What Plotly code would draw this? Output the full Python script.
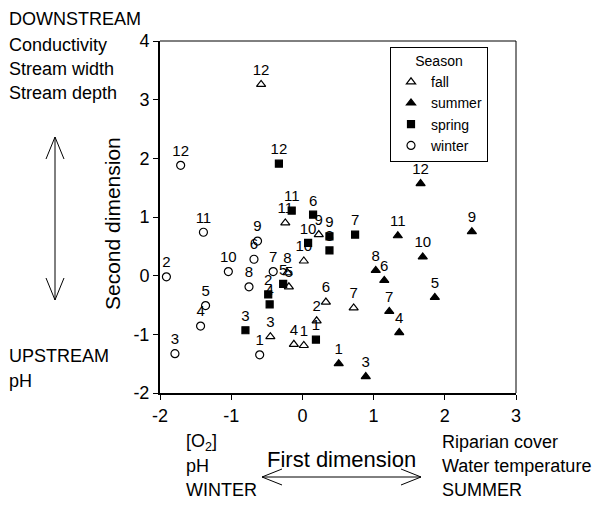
import plotly.graph_objects as go

# ---- data ----
fall_sites = ["1", "2", "3", "4", "5", "6", "7", "8", "9", "10", "11", "12"]
fall_x = [0.02, 0.20, -0.45, -0.12, -0.19, 0.33, 0.72, -0.21, 0.23, 0.02, -0.24, -0.58]
fall_y = [-1.19, -0.77, -1.04, -1.17, -0.19, -0.45, -0.55, 0.05, 0.70, 0.25, 0.90, 3.26]

summer_sites = ["1", "3", "4", "5", "6", "7", "8", "9", "10", "11", "12"]
summer_x = [0.51, 0.89, 1.36, 1.86, 1.15, 1.22, 1.03, 2.38, 1.69, 1.34, 1.66]
summer_y = [-1.50, -1.72, -0.97, -0.37, -0.08, -0.61, 0.09, 0.75, 0.32, 0.68, 1.57]

spring_sites = ["1", "2", "3", "4", "5", "6", "7", "8", "9", "10", "11", "12"]
spring_x = [0.19, -0.48, -0.80, -0.46, -0.27, 0.15, 0.74, 0.38, 0.38, 0.08, -0.15, -0.33]
spring_y = [-1.09, -0.32, -0.93, -0.49, -0.14, 1.04, 0.70, 0.43, 0.67, 0.56, 1.11, 1.91]

winter_sites = ["1", "2", "3", "4", "5", "6", "7", "8", "9", "10", "11", "12"]
winter_x = [-0.60, -1.91, -1.79, -1.43, -1.36, -0.68, -0.41, -0.75, -0.63, -1.04, -1.39, -1.71]
winter_y = [-1.35, -0.02, -1.33, -0.86, -0.51, 0.28, 0.07, -0.19, 0.59, 0.07, 0.74, 1.88]

x_ticks = [-2, -1, 0, 1, 2, 3]
x_tick_text = ["-2", "-1", "0", "1", "2", "3"]
y_ticks = [-2, -1, 0, 1, 2, 3, 4]
y_tick_text = ["-2", "-1", "0", "1", "2", "3", "4"]

FONT = "Liberation Sans, Arial, Helvetica, sans-serif"
W, H = 613, 511
L, R, T, B = 160, 516, 41, 393  # plot area in pixels


def px(xp):
    return (xp - L) / (R - L)


def py(yp):
    return (B - yp) / (B - T)


fig = go.Figure()

series = [
    ("fall", fall_x, fall_y, fall_sites, "triangle-up-open", 8),
    ("summer", summer_x, summer_y, summer_sites, "triangle-up", 8),
    ("spring", spring_x, spring_y, spring_sites, "square", 7),
    ("winter", winter_x, winter_y, winter_sites, "circle-open", 8),
]
for name, xs, ys, labels, sym, size in series:
    fig.add_trace(go.Scatter(
        x=xs, y=ys, text=labels, name=name,
        mode="markers+text", textposition="top center",
        textfont=dict(family=FONT, size=15, color="black"),
        marker=dict(symbol=sym, size=size, color="black",
                    line=dict(color="black", width=1.2)),
        cliponaxis=False,
    ))

axis_common = dict(
    showgrid=False, zeroline=False, showline=True, linecolor="black",
    linewidth=2, ticks="outside", ticklen=5, tickcolor="black", tickwidth=1,
    tickfont=dict(family=FONT, size=18, color="black"), mirror=False,
)
fig.update_xaxes(range=[-2, 3], tickvals=x_ticks, ticktext=x_tick_text, **axis_common)
fig.update_yaxes(range=[-2, 4], tickvals=y_ticks, ticktext=y_tick_text, **axis_common)

shapes = []
# top and right frame lines (thin)
shapes.append(dict(type="line", xref="paper", yref="paper", x0=0, x1=1, y0=1, y1=1,
                   line=dict(color="black", width=1)))
shapes.append(dict(type="line", xref="paper", yref="paper", x0=1, x1=1, y0=0, y1=1,
                   line=dict(color="black", width=1)))


def path_shape(pts_list):
    d = ""
    for pts in pts_list:
        d += "M " + " L ".join(f"{px(a):.5f},{py(b):.5f}" for a, b in pts) + " "
    return dict(type="path", xref="paper", yref="paper", path=d.strip(),
                line=dict(color="black", width=1))


# vertical double arrow
vx, vt, vb = 55, 137, 300
shapes.append(path_shape([
    [(vx, vt), (vx, vb)],
    [(vx - 9, vt + 22), (vx, vt), (vx + 9, vt + 22)],
    [(vx - 9, vb - 22), (vx, vb), (vx + 9, vb - 22)],
]))
# horizontal double arrow
hy, hl, hr = 477, 262, 421
shapes.append(path_shape([
    [(hl, hy), (hr, hy)],
    [(hl + 20, hy - 8), (hl, hy), (hl + 20, hy + 8)],
    [(hr - 20, hy - 8), (hr, hy), (hr - 20, hy + 8)],
]))

ann = []


def txt(s, x, y, size=18, xanchor="left", angle=0):
    ann.append(dict(text=s, x=px(x), y=py(y), xref="paper", yref="paper",
                    xanchor=xanchor, yanchor="middle", showarrow=False,
                    textangle=angle, font=dict(family=FONT, size=size, color="black")))


txt("DOWNSTREAM", 7, 19)
txt("Conductivity", 7, 45)
txt("Stream width", 7, 69)
txt("Stream depth", 7, 93)
txt("UPSTREAM", 7, 356)
txt("pH", 7, 381)
txt("Second dimension", 112, 224, size=21, xanchor="center", angle=-90)
txt("[O<sub>2</sub>]", 184, 442)
txt("pH", 184, 466)
txt("WINTER", 184, 490)
txt("First dimension", 341, 459, size=22, xanchor="center")
txt("Riparian cover", 440, 442)
txt("Water temperature", 440, 466)
txt("SUMMER", 440, 490)

fig.update_layout(
    width=W, height=H,
    margin=dict(l=L, r=W - R, t=T, b=H - B, pad=0),
    paper_bgcolor="white", plot_bgcolor="white",
    shapes=shapes, annotations=ann,
    showlegend=True,
    legend=dict(
        x=px(390), y=py(47), xanchor="left", yanchor="top",
        bgcolor="white", bordercolor="black", borderwidth=1,
        title=dict(text="Season", side="top center",
                   font=dict(family=FONT, size=14, color="black")),
        font=dict(family=FONT, size=14, color="black"),
        tracegroupgap=0,
    ),
    font=dict(family=FONT, color="black"),
)

fig.write_html("out.html")
